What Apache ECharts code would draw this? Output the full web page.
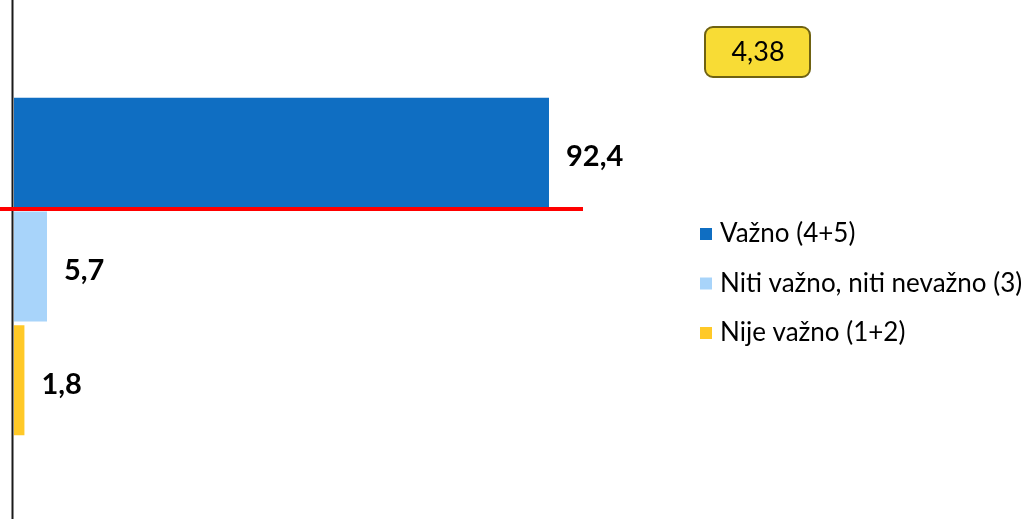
<!DOCTYPE html>
<html>
<head>
<meta charset="utf-8">
<script src="https://cdn.jsdelivr.net/npm/echarts@6/dist/echarts.min.js"></script>
<style>
  html, body { margin: 0; padding: 0; background: #fff; }
  #chart { width: 1025px; height: 519px; }
</style>
</head>
<body>
<div id="chart"></div>
<script>
// podaci
const categories = ['Važno (4+5)', 'Niti važno, niti nevažno (3)', 'Nije važno (1+2)']
const values = [92.4, 5.7, 1.8]
const colors = ['#0F6EC2', '#A8D4FA', '#FFC928']
const averageScore = '4,38'

const chart = echarts.init(document.getElementById('chart'))

// svaka kategorija je zasebna serija radi legende
const series = categories.map((name, i) => ({
  name: name,
  type: 'bar',
  barWidth: 110,
  barGap: '-100%',
  itemStyle: { color: colors[i] },
  label: {
    show: true,
    position: 'right',
    distance: 17,
    offset: [0, 4],
    fontFamily: 'Lato',
    fontSize: 29,
    fontWeight: 'bold',
    color: '#000',
    formatter: p => String(p.value).replace('.', ',')
  },
  data: categories.map((c, j) => (j === i ? values[i] : '-'))
}))

const option = {
  animation: false,
  textStyle: { fontFamily: 'Lato' },
  grid: {
    left: 14,
    right: 432,
    top: 96,
    bottom: 82
  },
  xAxis: {
    type: 'value',
    min: 0,
    max: 100,
    show: false
  },
  yAxis: {
    type: 'category',
    inverse: true,
    data: categories,
    axisLine: { show: false },
    axisTick: { show: false },
    axisLabel: { show: false }
  },
  legend: {
    orient: 'vertical',
    left: 695,
    top: 216,
    itemWidth: 12,
    itemHeight: 12,
    itemGap: 23.5,
    icon: 'rect',
    textStyle: { fontFamily: 'Lato', fontSize: 26, lineHeight: 26, color: '#000', padding: [0, 0, 0, 3] },
    data: categories
  },
  graphic: [
    // okomita os
    {
      type: 'line',
      shape: { x1: 12.5, y1: 0, x2: 12.5, y2: 519 },
      style: { stroke: '#1a1a1a', lineWidth: 2 },
      z: 10
    },
    // crvena linija
    {
      type: 'line',
      shape: { x1: 0, y1: 209, x2: 583, y2: 209 },
      style: { stroke: '#FF0000', lineWidth: 4 },
      z: 11
    },
    // prosječna ocjena
    {
      type: 'rect',
      shape: { x: 705, y: 27, width: 105, height: 50, r: 8 },
      style: { fill: '#F8DC35', stroke: '#6F6212', lineWidth: 2 }
    },
    {
      type: 'text',
      x: 758,
      y: 52,
      style: {
        text: averageScore,
        fontFamily: 'Lato',
        fontSize: 27,
        fill: '#000',
        align: 'center',
        verticalAlign: 'middle'
      }
    }
  ],
  series: series
}

chart.setOption(option)
</script>
</body>
</html>
